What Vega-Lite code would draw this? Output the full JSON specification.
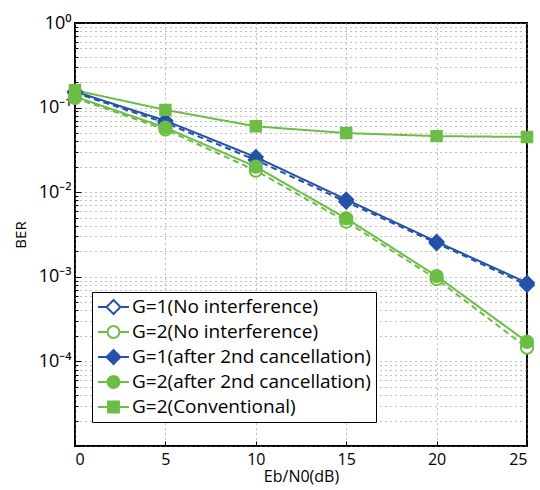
{
  "$schema": "https://vega.github.io/schema/vega-lite/v6.json",
  "width": 452,
  "height": 423,
  "autosize": "none",
  "padding": {"left": 75, "top": 23, "right": 13, "bottom": 44},
  "background": "white",
  "config": {
    "font": "Open Sans",
    "view": {"stroke": "black", "strokeWidth": 2},
    "axis": {"labelFont": "Open Sans", "titleFont": "Open Sans", "labelFontSize": 15, "titleFontSize": 15, "titleFontWeight": "normal", "labelColor": "black", "titleColor": "black", "domainColor": "black", "tickColor": "black", "gridColor": "#808080", "gridDash": [1, 4], "gridWidth": 1}
  },
  "data": {"values": [
    {"series": "G=1(No interference)", "x": 0, "y": 0.15},
    {"series": "G=1(No interference)", "x": 5, "y": 0.066},
    {"series": "G=1(No interference)", "x": 10, "y": 0.024},
    {"series": "G=1(No interference)", "x": 15, "y": 0.0077},
    {"series": "G=1(No interference)", "x": 20, "y": 0.0025},
    {"series": "G=1(No interference)", "x": 25, "y": 0.0008},
    {"series": "G=2(No interference)", "x": 0, "y": 0.13},
    {"series": "G=2(No interference)", "x": 5, "y": 0.055},
    {"series": "G=2(No interference)", "x": 10, "y": 0.018},
    {"series": "G=2(No interference)", "x": 15, "y": 0.0045},
    {"series": "G=2(No interference)", "x": 20, "y": 0.00094},
    {"series": "G=2(No interference)", "x": 25, "y": 0.000145},
    {"series": "G=1(after 2nd cancellation)", "x": 0, "y": 0.155},
    {"series": "G=1(after 2nd cancellation)", "x": 5, "y": 0.07},
    {"series": "G=1(after 2nd cancellation)", "x": 10, "y": 0.026},
    {"series": "G=1(after 2nd cancellation)", "x": 15, "y": 0.0082},
    {"series": "G=1(after 2nd cancellation)", "x": 20, "y": 0.0026},
    {"series": "G=1(after 2nd cancellation)", "x": 25, "y": 0.00085},
    {"series": "G=2(after 2nd cancellation)", "x": 0, "y": 0.135},
    {"series": "G=2(after 2nd cancellation)", "x": 5, "y": 0.058},
    {"series": "G=2(after 2nd cancellation)", "x": 10, "y": 0.02},
    {"series": "G=2(after 2nd cancellation)", "x": 15, "y": 0.0049},
    {"series": "G=2(after 2nd cancellation)", "x": 20, "y": 0.00102},
    {"series": "G=2(after 2nd cancellation)", "x": 25, "y": 0.00017},
    {"series": "G=2(Conventional)", "x": 0, "y": 0.16},
    {"series": "G=2(Conventional)", "x": 5, "y": 0.094},
    {"series": "G=2(Conventional)", "x": 10, "y": 0.06},
    {"series": "G=2(Conventional)", "x": 15, "y": 0.05},
    {"series": "G=2(Conventional)", "x": 20, "y": 0.046},
    {"series": "G=2(Conventional)", "x": 25, "y": 0.045}
  ]},
  "encoding": {
    "x": {"field": "x", "type": "quantitative", "scale": {"domain": [0, 25], "nice": false},
      "axis": {"values": [0, 5, 10, 15, 20, 25], "title": "Eb/N0(dB)", "tickSize": -5, "labelPadding": 10, "titlePadding": 1, "domain": false, "labelFontSize": 16, "titleFontSize": 16}},
    "y": {"field": "y", "type": "quantitative", "scale": {"type": "log", "domain": [0.00001, 1], "nice": false},
      "axis": {"values": [0.00001, 0.00002, 0.00003, 0.00004, 0.00005, 0.00006, 0.00007, 0.00008, 0.00009, 0.0001, 0.0002, 0.0003, 0.0004, 0.0005, 0.0006, 0.0007, 0.0008, 0.0009, 0.001, 0.002, 0.003, 0.004, 0.005, 0.006, 0.007, 0.008, 0.009, 0.01, 0.02, 0.03, 0.04, 0.05, 0.06, 0.07, 0.08, 0.09, 0.1, 0.2, 0.3, 0.4, 0.5, 0.6, 0.7, 0.8, 0.9, 1],
        "labelExpr": "abs(log(datum.value)/LN10 - round(log(datum.value)/LN10)) < 0.001 && datum.value > 0.00002 ? '10' + ['⁰','⁻¹','⁻²','⁻³','⁻⁴','⁻⁵'][round(-log(datum.value)/LN10)] : ''",
        "tickSize": {"condition": {"test": "abs(log(datum.value)/LN10 - round(log(datum.value)/LN10)) < 0.001", "value": -6}, "value": -3},
        "labelPadding": 10, "labelFontSize": 18, "title": "BER", "titlePadding": 10, "domain": false}},
    "color": {"field": "series", "type": "nominal",
      "scale": {"domain": ["G=1(No interference)", "G=2(No interference)", "G=1(after 2nd cancellation)", "G=2(after 2nd cancellation)", "G=2(Conventional)"],
        "range": ["#2352a6", "#6cbd45", "#2352a6", "#6cbd45", "#6cbd45"]},
      "legend": {"title": null, "orient": "none", "legendX": 17, "legendY": 269, "strokeColor": "black", "fillColor": "white", "padding": 5, "labelFontSize": 19, "labelFont": "Open Sans", "labelColor": "black", "symbolStrokeWidth": 2, "symbolSize": 961, "clipHeight": 20, "rowPadding": 5, "labelOffset": 2, "labelLimit": 400,
        "encode": {"symbols": {"update": {
          "shape": {"signal": "indexof(datum.value, 'Conventional') >= 0 ? 'M-1,0L1,0M-0.35,-0.35L0.35,-0.35L0.35,0.35L-0.35,0.35Z' : indexof(datum.value, 'G=1') >= 0 ? (indexof(datum.value, 'No') >= 0 ? 'M-1,0L-0.45,0M0.45,0L1,0M0,-0.45L0.45,0L0,0.45L-0.45,0Z' : 'M-1,0L1,0M0,-0.45L0.45,0L0,0.45L-0.45,0Z') : (indexof(datum.value, 'No') >= 0 ? 'M-1,0L-0.38,0M0.38,0L1,0M-0.38,0A0.38,0.38 0 1,0 0.38,0A0.38,0.38 0 1,0 -0.38,0Z' : 'M-1,0L1,0M-0.38,0A0.38,0.38 0 1,0 0.38,0A0.38,0.38 0 1,0 -0.38,0Z')"},
          "fill": {"signal": "indexof(datum.value, 'No') >= 0 ? 'white' : (indexof(datum.value, 'G=1') >= 0 ? '#2352a6' : '#6cbd45')"},
          "size": {"value": 961},
          "strokeDash": {"value": [1, 0]},
          "strokeWidth": {"value": 2},
          "opacity": {"value": 1}
        }}}}
    }
  },
  "layer": [
    {"mark": {"type": "line", "strokeWidth": 2},
      "encoding": {"strokeDash": {"condition": {"test": "indexof(datum.series, 'No') >= 0", "value": [6, 4]}, "value": [1, 0]}}},
    {"mark": {"type": "point", "strokeWidth": 2, "opacity": 1},
      "encoding": {
        "shape": {"condition": [{"test": "indexof(datum.series, 'Conventional') >= 0", "value": "square"}, {"test": "indexof(datum.series, 'G=1') >= 0", "value": "diamond"}], "value": "circle"},
        "fill": {"condition": [{"test": "indexof(datum.series, 'No') >= 0", "value": "white"}, {"test": "indexof(datum.series, 'G=1') >= 0", "value": "#2352a6"}], "value": "#6cbd45"},
        "size": {"condition": [{"test": "indexof(datum.series, 'Conventional') >= 0", "value": 110}, {"test": "indexof(datum.series, 'G=1') >= 0", "value": 190}], "value": 150}
      }}
  ]
}
